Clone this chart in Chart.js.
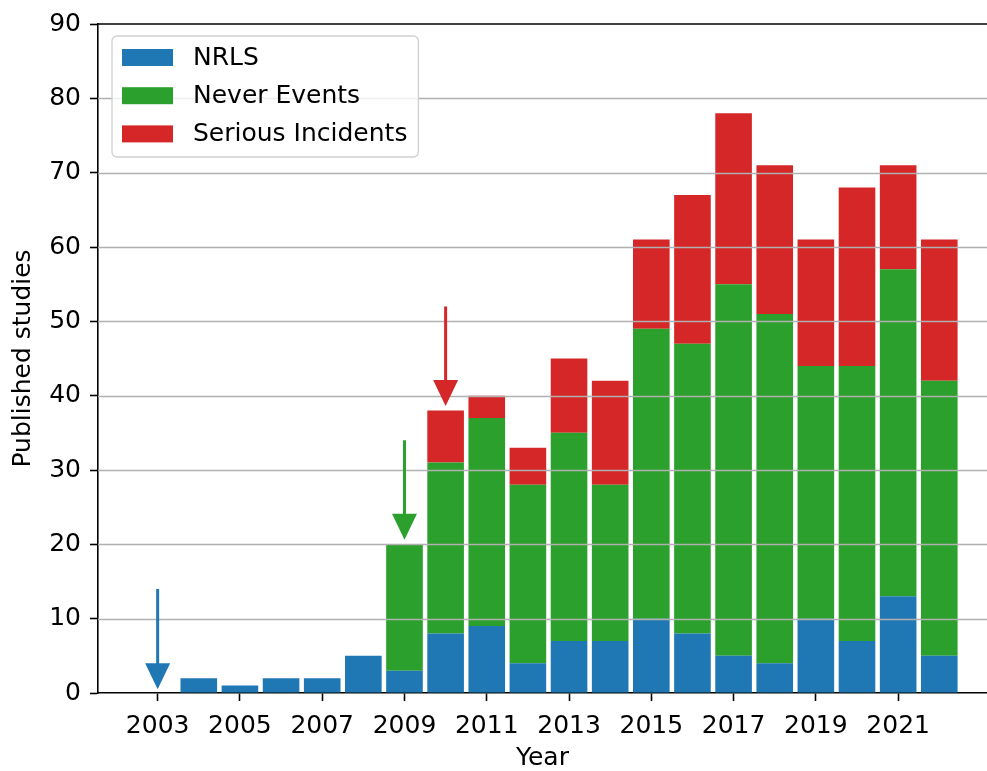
<!DOCTYPE html>
<html>
<head>
<meta charset="utf-8">
<script src="https://cdn.jsdelivr.net/npm/chart.js@4.4.0/dist/chart.umd.min.js"></script>
<style>
  html, body { margin: 0; padding: 0; background: #fff; overflow: hidden; }
  #wrap { width: 987px; height: 771px; position: relative; }
</style>
</head>
<body>
<div id="wrap"><canvas id="studiesChart"></canvas></div>
<script>
// data
const years = [2003, 2004, 2005, 2006, 2007, 2008, 2009, 2010, 2011, 2012,
               2013, 2014, 2015, 2016, 2017, 2018, 2019, 2020, 2021, 2022];
const nrls = [0, 2, 1, 2, 2, 5, 3, 8, 9, 4, 7, 7, 10, 8, 5, 4, 10, 7, 13, 5];
const neverEvents = [0, 0, 0, 0, 0, 0, 17, 23, 28, 24, 28, 21, 39, 39, 50, 47, 34, 37, 44, 37];
const seriousIncidents = [0, 0, 0, 0, 0, 0, 0, 7, 3, 5, 10, 14, 12, 20, 23, 20, 17, 24, 14, 19];

const tickYears = [2003, 2005, 2007, 2009, 2011, 2013, 2015, 2017, 2019, 2021];
const yTicks = [0, 10, 20, 30, 40, 50, 60, 70, 80, 90];

// arrows marking when each reporting source started
const arrowYears = [2003, 2009, 2010];
const arrowTails = [14, 34, 52];
const arrowTips = [0.5, 20.6, 38.6];

const BLUE = '#1f77b4';
const GREEN = '#2ca02c';
const RED = '#d62728';
const arrowColors = [BLUE, GREEN, RED];

const FONT = 'DejaVu Sans';
const FONT_SIZE = 25;

function toPoints(values) {
    return years.map((yr, i) => ({ x: yr, y: values[i] }));
}

// grid over the bars, top spine, arrows and the boxed legend
const overlayPlugin = {
    id: 'overlay',
    afterDatasetsDraw(chart) {
        const { ctx, chartArea, scales } = chart;
        const x = scales.x;
        const y = scales.y;
        ctx.save();

        ctx.strokeStyle = '#b0b0b0';
        ctx.lineWidth = 1.6;
        yTicks.forEach(v => {
            if (v === 0 || v === 90) return;
            const py = Math.round(y.getPixelForValue(v)) + 0.5;
            ctx.beginPath();
            ctx.moveTo(chartArea.left, py);
            ctx.lineTo(chartArea.right, py);
            ctx.stroke();
        });

        ctx.strokeStyle = '#000';
        ctx.lineWidth = 1.6;
        ctx.beginPath();
        ctx.moveTo(chartArea.left, chartArea.top);
        ctx.lineTo(chartArea.right, chartArea.top);
        ctx.stroke();

        const headLen = 26;
        const headHalf = 12.5;
        arrowYears.forEach((yr, i) => {
            const px = x.getPixelForValue(yr);
            const tail = y.getPixelForValue(arrowTails[i]);
            const tip = y.getPixelForValue(arrowTips[i]);
            ctx.fillStyle = arrowColors[i];
            ctx.fillRect(px - 1.5, tail, 3, tip - headLen - tail + 1);
            ctx.beginPath();
            ctx.moveTo(px - headHalf, tip - headLen);
            ctx.lineTo(px + headHalf, tip - headLen);
            ctx.lineTo(px, tip);
            ctx.closePath();
            ctx.fill();
        });

        // legend
        const items = chart.data.datasets;
        ctx.font = `${FONT_SIZE}px "${FONT}"`;
        const maxText = Math.max(...items.map(d => ctx.measureText(d.label).width));
        const bx = chartArea.left + 14;
        const by = chartArea.top + 12;
        const textX = bx + 81;
        const bw = textX - bx + maxText + 11;
        const bh = 121;
        ctx.beginPath();
        ctx.roundRect(bx, by, bw, bh, 5);
        ctx.fillStyle = 'rgba(255,255,255,0.8)';
        ctx.fill();
        ctx.strokeStyle = '#d0d0d0';
        ctx.lineWidth = 1.3;
        ctx.stroke();
        items.forEach((d, i) => {
            const cy = by + 21.5 + i * 38.2;
            ctx.fillStyle = d.backgroundColor;
            ctx.fillRect(bx + 10, cy - 8.5, 51, 17);
            ctx.fillStyle = '#000';
            ctx.textBaseline = 'middle';
            ctx.textAlign = 'left';
            ctx.fillText(d.label, textX, cy + 1);
        });

        ctx.restore();
    }
};

const tickFont = { family: FONT, size: FONT_SIZE };

const chart = new Chart(document.getElementById('studiesChart').getContext('2d'), {
    type: 'bar',
    data: {
        datasets: [
            { label: 'NRLS', data: toPoints(nrls), backgroundColor: BLUE },
            { label: 'Never Events', data: toPoints(neverEvents), backgroundColor: GREEN },
            { label: 'Serious Incidents', data: toPoints(seriousIncidents), backgroundColor: RED }
        ]
    },
    options: {
        responsive: true,
        maintainAspectRatio: false,
        animation: false,
        events: [],
        layout: { padding: { top: 23, right: 0, bottom: 0, left: 0 } },
        datasets: {
            bar: { barPercentage: 0.89, categoryPercentage: 1.0, borderWidth: 0 }
        },
        plugins: {
            legend: { display: false },
            tooltip: { enabled: false }
        },
        scales: {
            x: {
                type: 'linear',
                stacked: true,
                offset: false,
                min: 2001.55,
                max: 2023.16,
                afterBuildTicks: scale => {
                    scale.ticks = tickYears.map(v => ({ value: v }));
                },
                afterFit: scale => { scale.height = 78; },
                border: { display: true, color: '#000', width: 1.6 },
                grid: {
                    display: true,
                    offset: false,
                    drawOnChartArea: false,
                    drawTicks: true,
                    tickLength: 8,
                    tickColor: '#000',
                    tickWidth: 1.6
                },
                ticks: {
                    autoSkip: false,
                    maxRotation: 0,
                    padding: 10,
                    color: '#000',
                    font: tickFont,
                    callback: v => String(v)
                },
                title: {
                    display: true,
                    text: 'Year',
                    color: '#000',
                    font: { family: FONT, size: FONT_SIZE, lineHeight: 1 },
                    padding: { top: 0, bottom: 0 }
                }
            },
            y: {
                stacked: true,
                min: 0,
                max: 90,
                afterBuildTicks: scale => {
                    scale.ticks = yTicks.map(v => ({ value: v }));
                },
                afterFit: scale => { scale.width = 98; },
                border: { display: true, color: '#000', width: 1.6 },
                grid: {
                    display: true,
                    drawOnChartArea: false,
                    drawTicks: true,
                    tickLength: 8,
                    tickColor: '#000',
                    tickWidth: 1.6
                },
                ticks: {
                    padding: 9,
                    color: '#000',
                    font: tickFont
                },
                title: {
                    display: true,
                    text: 'Published studies',
                    color: '#000',
                    font: { family: FONT, size: FONT_SIZE, lineHeight: 1 },
                    padding: { top: 10.5, bottom: 0 }
                }
            }
        }
    },
    plugins: [overlayPlugin]
});
</script>
</body>
</html>
